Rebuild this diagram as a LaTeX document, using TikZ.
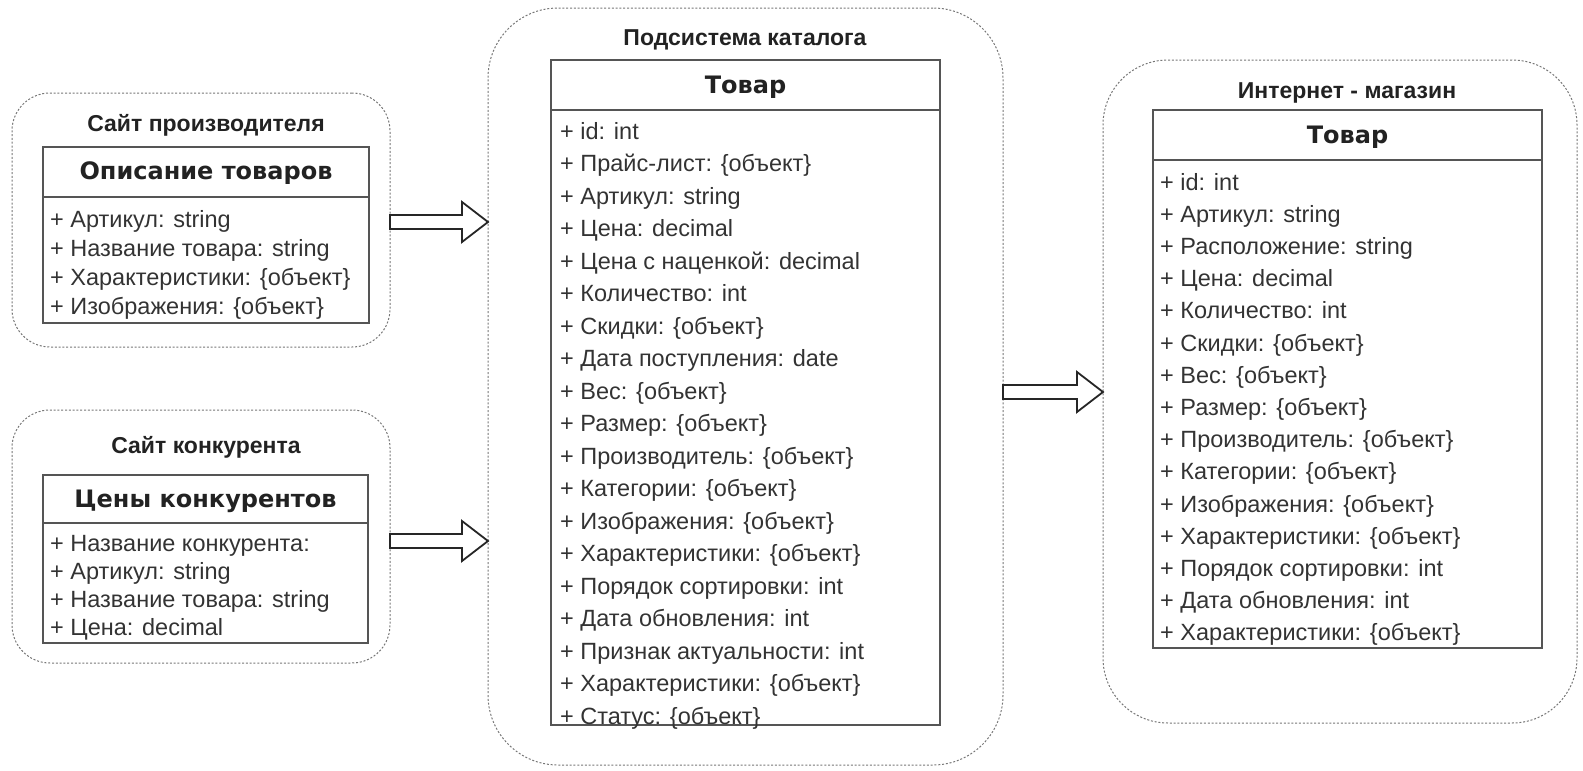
\documentclass[tikz,border=0pt]{standalone}
\usepackage{fontspec}
\setmainfont{Liberation Sans}
\newfontfamily\clsfont{DejaVu Sans}
\usetikzlibrary{calc}
\definecolor{txt}{HTML}{222222}
\definecolor{atxt}{HTML}{333333}
\definecolor{brd}{HTML}{555555}
\definecolor{dotc}{HTML}{777777}
\tikzset{
  container/.style={draw=dotc, line width=1pt, dash pattern=on 2pt off 1.8pt,
    rectangle, inner sep=0pt, outer sep=0pt, anchor=north west},
  clsbox/.style={draw=brd, line width=1.3pt, rectangle, inner sep=0pt, outer sep=0pt,
    anchor=north west},
  divider/.style={draw=brd, line width=1.3pt},
  ctitle/.style={anchor=base, inner sep=0pt, text=txt,
    font=\bfseries\fontsize{23}{27}\selectfont},
  cname/.style={anchor=base, inner sep=0pt, text=txt,
    font=\clsfont\bfseries\fontsize{24}{28}\selectfont},
  attr/.style={anchor=base west, inner sep=0pt, text=atxt,
    font=\fontsize{23.5}{27}\selectfont},
  barrow/.style={draw=black!85, line width=1.8pt, fill=white, line join=miter}
}
\newcommand\blockarr[2]{%
  \draw[barrow] let \p1=(#1), \p2=(#2) in
    (\x1,\y1+7pt) -- (\x2-26pt,\y1+7pt) -- (\x2-26pt,\y1+20pt) -- (\x2,\y1)
    -- (\x2-26pt,\y1-20pt) -- (\x2-26pt,\y1-7pt) -- (\x1,\y1-7pt) -- cycle;}
\begin{document}
\begin{tikzpicture}[x=1pt,y=-1pt]
\useasboundingbox (0,0) rectangle (1583,771);

% containers
\node[container, rounded corners=38pt, minimum width=378pt, minimum height=254pt] (c1) at (12,93) {};
\node[container, rounded corners=38pt, minimum width=378pt, minimum height=253pt] (c2) at (12,410) {};
\node[container, rounded corners=70pt, minimum width=515pt, minimum height=757pt] (c3) at (488,8) {};
\node[container, rounded corners=65pt, minimum width=474pt, minimum height=663pt] (c4) at (1103,60) {};

% titles
\node[ctitle] (t1) at (206,131) {Сайт производителя};
\node[ctitle] (t2) at (206,453) {Сайт конкурента};
\node[ctitle] (t3) at (745,45) {Подсистема каталога};
\node[ctitle] (t4) at (1347,98) {Интернет - магазин};

% class boxes
\node[clsbox, minimum width=326pt, minimum height=176pt] (b1) at (43,147) {};
\draw[divider] ([yshift=-50pt]b1.north west) -- ([yshift=-50pt]b1.north east);
\node[cname] (n1) at (b1.north |- 0,179) {Описание товаров};

\node[clsbox, minimum width=325pt, minimum height=168pt] (b2) at (43,475) {};
\draw[divider] ([yshift=-48pt]b2.north west) -- ([yshift=-48pt]b2.north east);
\node[cname] (n2) at (b2.north |- 0,507) {Цены конкурентов};

\node[clsbox, minimum width=389pt, minimum height=665pt] (b3) at (551,60) {};
\draw[divider] ([yshift=-50pt]b3.north west) -- ([yshift=-50pt]b3.north east);
\node[cname] (n3) at (b3.north |- 0,93) {Товар};

\node[clsbox, minimum width=389pt, minimum height=538pt] (b4) at (1153,110) {};
\draw[divider] ([yshift=-50pt]b4.north west) -- ([yshift=-50pt]b4.north east);
\node[cname] (n4) at (b4.north |- 0,143) {Товар};

% attributes
\foreach \t [count=\i] in {%
  + Артикул: string,
  + Название товара: string,
  + Характеристики: \{объект\},
  + Изображения: \{объект\}}
  \node[attr] (r1-\i) at (50,{227+29*(\i-1)}) {\t};

\foreach \t [count=\i] in {%
  + Название конкурента:,
  + Артикул: string,
  + Название товара: string,
  + Цена: decimal}
  \node[attr] (r2-\i) at (50,{551+28*(\i-1)}) {\t};

\foreach \t [count=\i] in {%
  + id: int,
  + Прайс-лист: \{объект\},
  + Артикул: string,
  + Цена: decimal,
  + Цена с наценкой: decimal,
  + Количество: int,
  + Скидки: \{объект\},
  + Дата поступления: date,
  + Вес: \{объект\},
  + Размер: \{объект\},
  + Производитель: \{объект\},
  + Категории: \{объект\},
  + Изображения: \{объект\},
  + Характеристики: \{объект\},
  + Порядок сортировки: int,
  + Дата обновления: int,
  + Признак актуальности: int,
  + Характеристики: \{объект\},
  + Статус: \{объект\}}
  \node[attr] (r3-\i) at (560,{139+32.5*(\i-1)}) {\t};

\foreach \t [count=\i] in {%
  + id: int,
  + Артикул: string,
  + Расположение: string,
  + Цена: decimal,
  + Количество: int,
  + Скидки: \{объект\},
  + Вес: \{объект\},
  + Размер: \{объект\},
  + Производитель: \{объект\},
  + Категории: \{объект\},
  + Изображения: \{объект\},
  + Характеристики: \{объект\},
  + Порядок сортировки: int,
  + Дата обновления: int,
  + Характеристики: \{объект\}}
  \node[attr] (r4-\i) at (1160,{190+32.2*(\i-1)}) {\t};

% arrows
\coordinate (a1s) at (c1.east |- 0,222);
\coordinate (a1e) at (c3.west |- 0,222);
\coordinate (a2s) at (c2.east |- 0,541);
\coordinate (a2e) at (c3.west |- 0,541);
\coordinate (a3s) at (c3.east |- 0,392);
\coordinate (a3e) at (c4.west |- 0,392);
\blockarr{a1s}{a1e}
\blockarr{a2s}{a2e}
\blockarr{a3s}{a3e}
\end{tikzpicture}
\end{document}
